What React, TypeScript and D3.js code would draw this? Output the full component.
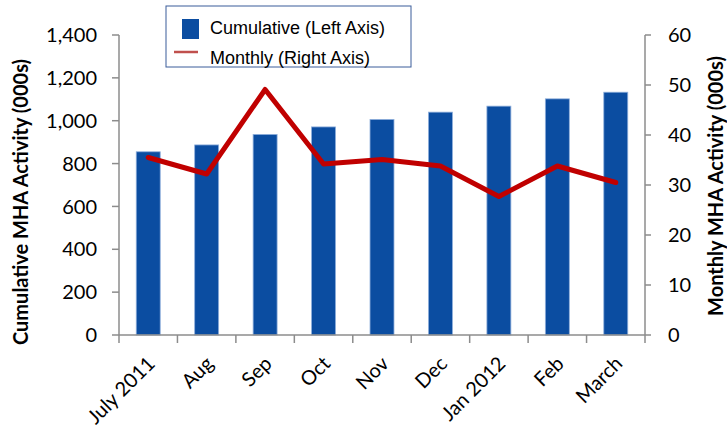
import React from "react";
import * as d3 from "d3";

const categories = ["July 2011", "Aug", "Sep", "Oct", "Nov", "Dec", "Jan 2012", "Feb", "March"];
const cumulative = [855, 887, 936, 971, 1006, 1040, 1068, 1102, 1133];
const monthly = [35.5, 32.2, 49.1, 34.2, 35.1, 33.8, 27.7, 33.8, 30.5];
const leftTicks = [0, 200, 400, 600, 800, 1000, 1200, 1400];
const rightTicks = [0, 10, 20, 30, 40, 50, 60];

const W = 727;
const H = 430;
const plot = { left: 119, right: 645, top: 35, bottom: 335 };
const axisColor = "#8c8c8c";
const tickFont = "Lato, 'Open Sans', sans-serif";

export default function App() {
  const x = d3.scaleBand<string>().domain(categories).range([plot.left, plot.right]).paddingInner(0.59).paddingOuter(0.295);
  const xc = d3.scaleBand<string>().domain(categories).range([plot.left, plot.right]);
  const yL = d3.scaleLinear().domain([0, 1400]).range([plot.bottom, plot.top]);
  const yR = d3.scaleLinear().domain([0, 60]).range([plot.bottom, plot.top]);
  const fmt = d3.format(",");
  const line = d3
    .line<number>()
    .x((_, i) => (xc(categories[i]) as number) + xc.bandwidth() / 2)
    .y((d) => yR(d));

  const boundaries = d3.range(categories.length + 1).map((i) => plot.left + i * xc.bandwidth());

  return (
    <svg width={W} height={H} style={{ position: "absolute", left: 0, top: 0, background: "#fff" }}>
      {/* bars */}
      {categories.map((c, i) => (
        <rect
          key={c}
          x={x(c)}
          y={yL(cumulative[i])}
          width={x.bandwidth()}
          height={plot.bottom - yL(cumulative[i])}
          fill="#0b4da1"
          stroke="#8eaedb"
          strokeWidth={0.8}
        />
      ))}
      {/* x axis */}
      <line x1={plot.left} x2={plot.right} y1={plot.bottom} y2={plot.bottom} stroke={axisColor} strokeWidth={1.5} />
      {boundaries.map((b, i) => (
        <line key={i} x1={b} x2={b} y1={plot.bottom} y2={plot.bottom + 8} stroke={axisColor} strokeWidth={1.5} />
      ))}
      {/* left axis */}
      <line x1={plot.left} x2={plot.left} y1={plot.top} y2={plot.bottom} stroke={axisColor} strokeWidth={1.5} />
      {leftTicks.map((t) => (
        <g key={t}>
          <line x1={plot.left - 7} x2={plot.left} y1={yL(t)} y2={yL(t)} stroke={axisColor} strokeWidth={1.5} />
          <text x={plot.left - 22} y={yL(t)} dy="0.36em" textAnchor="end" fontFamily={tickFont} fontSize={20} fill="#000">
            {fmt(t)}
          </text>
        </g>
      ))}
      {/* right axis */}
      <line x1={plot.right} x2={plot.right} y1={plot.top} y2={plot.bottom} stroke={axisColor} strokeWidth={1.5} />
      {rightTicks.map((t) => (
        <g key={t}>
          <line x1={plot.right} x2={plot.right + 6} y1={yR(t)} y2={yR(t)} stroke={axisColor} strokeWidth={1.5} />
          <text x={plot.right + 23} y={yR(t)} dy="0.36em" textAnchor="start" fontFamily={tickFont} fontSize={20} fill="#000">
            {t}
          </text>
        </g>
      ))}
      {/* line */}
      <path d={line(monthly) || ""} fill="none" stroke="#c00000" strokeWidth={5} strokeLinejoin="round" strokeLinecap="round" />
      {/* x labels */}
      {categories.map((c) => {
        const cx = (xc(c) as number) + xc.bandwidth() / 2 + 3;
        const cy = plot.bottom + 25;
        return (
          <text
            key={c}
            x={cx}
            y={cy}
            textAnchor="end"
            dy="0.35em"
            transform={`rotate(-45 ${cx} ${cy})`}
            fontFamily={tickFont}
            fontSize={20}
            fill="#000"
          >
            {c}
          </text>
        );
      })}
      {/* axis titles */}
      <text
        transform={`translate(21,202) rotate(-90)`}
        textAnchor="middle"
        dy="0.35em"
        fontFamily={tickFont}
        fontWeight="bold"
        fontSize={20}
        fill="#000"
      >
        Cumulative MHA Activity (000s)
      </text>
      <text
        transform={`translate(716,186) rotate(-90)`}
        textAnchor="middle"
        dy="0.35em"
        fontFamily={tickFont}
        fontWeight="bold"
        fontSize={20}
        fill="#000"
      >
        Monthly MHA Activity (000s)
      </text>
      {/* legend */}
      <rect x={166} y={6} width={245} height={61} fill="#fff" stroke="#3b5c9a" strokeWidth={1} />
      <rect x={182} y={19} width={17} height={20} fill="#0b4da1" />
      <text x={210} y={34} fontFamily="'Liberation Sans', Arial, sans-serif" fontSize={18} fill="#000">
        Cumulative (Left Axis)
      </text>
      <line x1={174} x2={198} y1={52} y2={52} stroke="#c0504d" strokeWidth={2.5} />
      <text x={210} y={64} fontFamily="'Liberation Sans', Arial, sans-serif" fontSize={18} fill="#000">
        Monthly (Right Axis)
      </text>
    </svg>
  );
}
